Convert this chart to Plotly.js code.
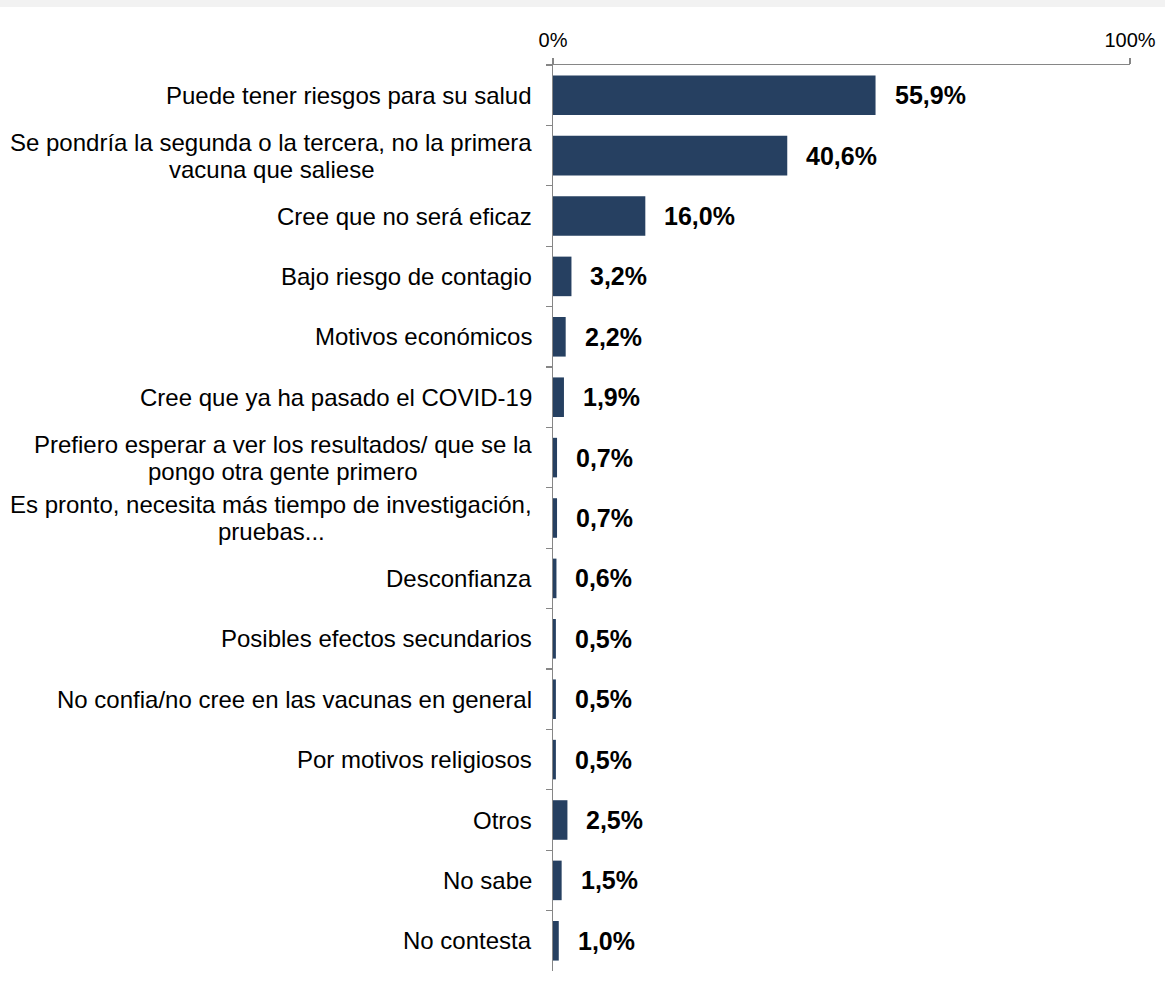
<!DOCTYPE html>
<html>
<head>
<meta charset="utf-8">
<script src="https://cdn.plot.ly/plotly-3.0.1.min.js"></script>
<style>
  html, body { margin: 0; padding: 0; background: #ffffff; }
  #band { width: 1165px; height: 7px; background: #f2f2f2; }
  #chart { width: 1165px; height: 978px; }
</style>
</head>
<body>
<div id="band"></div>
<div id="chart"></div>
<script>
const categories = [
  "Puede tener riesgos para su salud",
  "Se pondría la segunda o la tercera, no la primera<br>vacuna que saliese",
  "Cree que no será eficaz",
  "Bajo riesgo de contagio",
  "Motivos económicos",
  "Cree que ya ha pasado el COVID-19",
  "Prefiero esperar a ver los resultados/ que se la<br>pongo otra gente primero",
  "Es pronto, necesita más tiempo de investigación,<br>pruebas...",
  "Desconfianza",
  "Posibles efectos secundarios",
  "No confia/no cree en las vacunas en general",
  "Por motivos religiosos",
  "Otros",
  "No sabe",
  "No contesta"
];
const values = [55.9, 40.6, 16.0, 3.2, 2.2, 1.9, 0.7, 0.7, 0.6, 0.5, 0.5, 0.5, 2.5, 1.5, 1.0];
const tickValues = [0, 100];
const tickLabels = ["0%", "100%"];

const FONT = "'Liberation Sans', Arial, sans-serif";
const CAT_SIZE = 24;
const LINE_GAP = 27;
const fmt = v => v.toFixed(1).replace('.', ',') + '%';

const ctx = document.createElement('canvas').getContext('2d');
ctx.font = CAT_SIZE + "px 'Liberation Sans'";

const trace = {
  type: 'bar',
  orientation: 'h',
  x: values,
  y: categories,
  marker: { color: '#264061' },
  hoverinfo: 'skip'
};

const annotations = [];
categories.forEach((c, i) => {
  const lines = c.split('<br>');
  const widths = lines.map(l => ctx.measureText(l).width);
  const W = Math.max(...widths);
  lines.forEach((l, k) => {
    annotations.push({
      xref: 'paper', yref: 'y', x: 0, y: c,
      xanchor: 'center', yanchor: 'middle',
      xshift: -21 - W / 2,
      yshift: ((lines.length - 1) / 2 - k) * LINE_GAP,
      showarrow: false,
      text: l,
      font: { family: FONT, size: CAT_SIZE, color: '#000000' }
    });
  });
  annotations.push({
    xref: 'x', yref: 'y', x: values[i], y: c,
    xanchor: 'left', yanchor: 'middle', xshift: 17,
    showarrow: false,
    text: '<b>' + fmt(values[i]) + '</b>',
    font: { family: FONT, size: 25, color: '#000000' }
  });
});

const layout = {
  width: 1165, height: 978,
  margin: { l: 553, r: 35, t: 58, b: 14, pad: 0 },
  paper_bgcolor: '#ffffff', plot_bgcolor: '#ffffff',
  showlegend: false,
  bargap: 0.345,
  font: { family: FONT, color: '#000000' },
  xaxis: {
    side: 'top', range: [0, 100], fixedrange: true,
    tickmode: 'array', tickvals: tickValues, ticktext: tickLabels,
    ticks: 'outside', ticklen: 6, tickcolor: '#868686', tickwidth: 1.3,
    showline: true, linecolor: '#868686', linewidth: 1.3,
    showgrid: false, zeroline: false,
    tickfont: { family: FONT, size: 20, color: '#000000' },
    ticklabelstandoff: 3
  },
  yaxis: {
    type: 'category', autorange: 'reversed', fixedrange: true,
    showticklabels: false,
    ticks: 'outside', tickson: 'boundaries', ticklen: 6, tickcolor: '#868686', tickwidth: 1.3,
    showline: true, linecolor: '#868686', linewidth: 1.3,
    showgrid: false, zeroline: false
  },
  annotations: annotations
};

Plotly.newPlot('chart', [trace], layout, { displayModeBar: false, staticPlot: true });
</script>
</body>
</html>
